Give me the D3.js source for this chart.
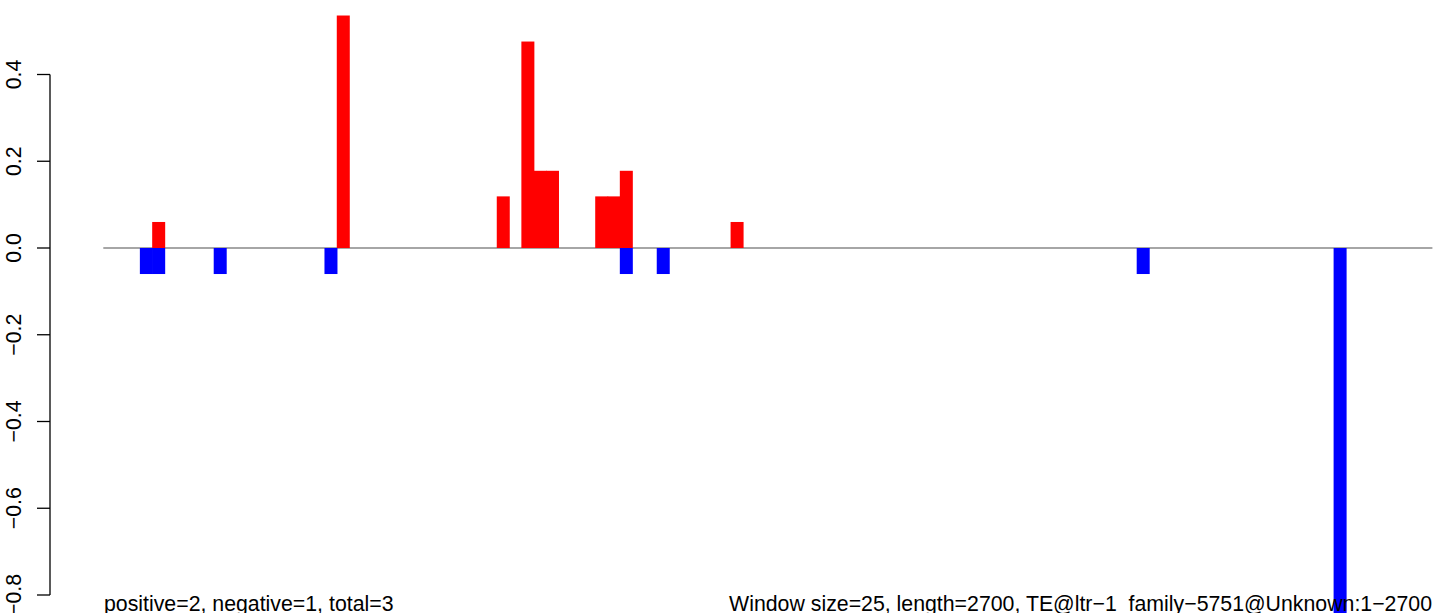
<!DOCTYPE html>
<html>
<head>
<meta charset="utf-8">
<script src="https://cdn.jsdelivr.net/npm/d3@7"></script>
<style>
  html, body { margin: 0; padding: 0; background: #fff; }
  svg { display: block; }
  text { font-family: "Liberation Sans", Arial, Helvetica, sans-serif; fill: #000; }
</style>
</head>
<body>
<svg id="chart" width="1444" height="613"></svg>
<script>
// ---- data ----
const windowCount = 108;               // 2700 / 25
const posWindows = [4, 19, 32, 34, 35, 36, 40, 41, 42, 51];
const posValues  = [0.06, 0.536, 0.119, 0.476, 0.178, 0.178, 0.119, 0.119, 0.178, 0.06];
const negWindows = [3, 4, 9, 18, 42, 45, 84, 100];
const negValues  = [-0.06, -0.06, -0.06, -0.06, -0.06, -0.06, -0.06, -0.87];
const tickValues = [0.4, 0.2, 0.0, -0.2, -0.4, -0.6, -0.8];
const tickLabels = ["0.4", "0.2", "0.0", "\u22120.2", "\u22120.4", "\u22120.6", "\u22120.8"];
const leftNote  = "positive=2, negative=1, total=3";
const rightNote = "Window size=25, length=2700, TE@ltr\u22121_family\u22125751@Unknown:1\u22122700";

// ---- layout ----
const W = 1444, H = 613;
const svg = d3.select("#chart");
const x = d3.scaleLinear().domain([0, windowCount]).range([103.3, 1432.4]);
const y = d3.scaleLinear().domain([0.4, -0.8]).range([74.5, 595]);
const barW = 13;
const fontSize = 21.3;

// zero line
svg.append("line")
  .attr("x1", x(0)).attr("x2", x(windowCount))
  .attr("y1", y(0)).attr("y2", y(0))
  .attr("stroke", "#a6a6a6").attr("stroke-width", 2);

const pos = posWindows.map((w, i) => ({w, v: posValues[i]}));
const neg = negWindows.map((w, i) => ({w, v: negValues[i]}));

svg.append("g").selectAll("rect").data(neg).join("rect")
  .attr("x", d => x(d.w + 0.5) - barW / 2)
  .attr("width", barW)
  .attr("y", y(0))
  .attr("height", d => y(d.v) - y(0))
  .attr("fill", "#0000ff");

svg.append("g").selectAll("rect").data(pos).join("rect")
  .attr("x", d => x(d.w + 0.5) - barW / 2)
  .attr("width", barW)
  .attr("y", d => y(d.v))
  .attr("height", d => y(0) - y(d.v))
  .attr("fill", "#ff0000");

// y axis (R style, rotated labels)
const axisX = 50;
const axisG = svg.append("g");
axisG.append("line")
  .attr("x1", axisX).attr("x2", axisX)
  .attr("y1", y(tickValues[0])).attr("y2", y(tickValues[tickValues.length - 1]))
  .attr("stroke", "#000").attr("stroke-width", 1.3);
axisG.selectAll("line.tick").data(tickValues).join("line")
  .attr("class", "tick")
  .attr("x1", axisX - 13).attr("x2", axisX)
  .attr("y1", d => y(d)).attr("y2", d => y(d))
  .attr("stroke", "#000").attr("stroke-width", 1.3);
axisG.selectAll("text").data(tickValues).join("text")
  .attr("transform", d => `translate(${21},${y(d)}) rotate(-90)`)
  .attr("text-anchor", "middle")
  .style("font-size", fontSize + "px")
  .text((d, i) => tickLabels[i]);

// bottom notes
svg.append("text")
  .attr("x", 104).attr("y", 611)
  .style("font-size", fontSize + "px")
  .text(leftNote);
svg.append("text")
  .attr("x", 1432).attr("y", 611)
  .attr("text-anchor", "end")
  .style("font-size", fontSize + "px")
  .text(rightNote);
</script>
</body>
</html>
